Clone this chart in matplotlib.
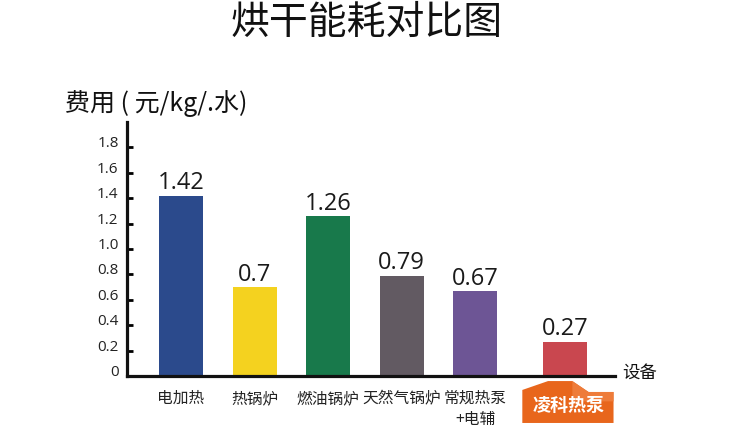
import matplotlib
matplotlib.use("Agg")
import matplotlib.pyplot as plt
import numpy as np
from matplotlib.patches import Polygon
from matplotlib.transforms import blended_transform_factory

CJK = ["Noto Sans CJK SC", "DejaVu Sans"]
NUM = ["Open Sans", "DejaVu Sans"]

# data
categories = ["电加热", "热锅炉", "燃油锅炉", "天然气锅炉", "常规热泵\n+电辅", "凌科热泵"]
costs = [1.42, 0.7, 1.26, 0.79, 0.67, 0.27]
value_labels = ["1.42", "0.7", "1.26", "0.79", "0.67", "0.27"]
bar_colors = ["#2b4a8c", "#f4d21f", "#18794b", "#625a62", "#6d5595", "#c9474f"]
yticks = [0, 0.2, 0.4, 0.6, 0.8, 1.0, 1.2, 1.4, 1.6, 1.8]
ytick_labels = ["0", "0.2", "0.4", "0.6", "0.8", "1.0", "1.2", "1.4", "1.6", "1.8"]

fig = plt.figure(figsize=(7.5, 4.46), dpi=100)
ax = fig.add_axes([0.1693, 0.157, 0.6507, 0.5695])

x = np.arange(len(categories), dtype=float)
x[-1] += 0.22  # highlighted bar sits a bit further right

ax.bar(x, costs, width=0.6, color=bar_colors, zorder=2)
for xi, v, lab in zip(x, costs, value_labels):
    ax.annotate(lab, (xi, v), xytext=(0, 4.5), textcoords="offset points",
                ha="center", va="baseline", fontsize=17, family=NUM, color="#1a1a1a")

ax.set_xlim(-0.735, 5.9)
ax.set_ylim(0, 2.0)
for s in ["top", "right"]:
    ax.spines[s].set_visible(False)
for s in ["left", "bottom"]:
    ax.spines[s].set_linewidth(2.3)
    ax.spines[s].set_color("#111111")

ax.set_yticks(yticks)
ax.set_yticklabels(ytick_labels, family=NUM, fontsize=11, color="#222222")
for t in ax.get_yticklabels():
    t.set_va("baseline")
ax.tick_params(axis="y", direction="in", length=4, width=2, pad=6)

ax.set_xticks(x)
ax.set_xticklabels(categories[:-1] + [""], family=CJK, fontsize=11.3,
                   color="#222222", linespacing=1.35)
ax.tick_params(axis="x", length=0, pad=10)

# orange tag behind the highlighted category
tr = blended_transform_factory(ax.transData, ax.transAxes)
xl = x[-1]
tag = [(xl - 0.58, -0.185), (xl - 0.58, -0.055), (xl - 0.23, -0.02),
       (xl + 0.10, -0.02), (xl + 0.32, -0.063), (xl + 0.66, -0.063),
       (xl + 0.66, -0.185)]
ax.add_patch(Polygon(tag, closed=True, transform=tr, clip_on=False,
                     facecolor="#e8661c", edgecolor="none", zorder=1))
shade = [(xl + 0.10, -0.02), (xl + 0.32, -0.063), (xl + 0.66, -0.063),
         (xl + 0.66, -0.10), (xl + 0.10, -0.10)]
ax.add_patch(Polygon(shade, closed=True, transform=tr, clip_on=False,
                     facecolor="#ee7c3a", edgecolor="none", zorder=1))
ax.text(xl + 0.05, -0.115, categories[-1], transform=tr, ha="center", va="center",
        fontsize=13, fontweight="bold", family=CJK, color="white", zorder=3)

ax.text(-0.127, 1.071, "费用 ( 元/kg/.水)", transform=ax.transAxes,
        ha="left", va="center", fontsize=18, family=CJK, color="#111111")
ax.text(1.014, 0.012, "设备", transform=ax.transAxes, ha="left", va="center",
        fontsize=12.5, family=CJK, color="#111111")

fig.text(0.489, 0.948, "烘干能耗对比图", ha="center", va="center",
         fontsize=28, family=CJK, color="#111111")

fig.savefig("out.png", dpi=100)
